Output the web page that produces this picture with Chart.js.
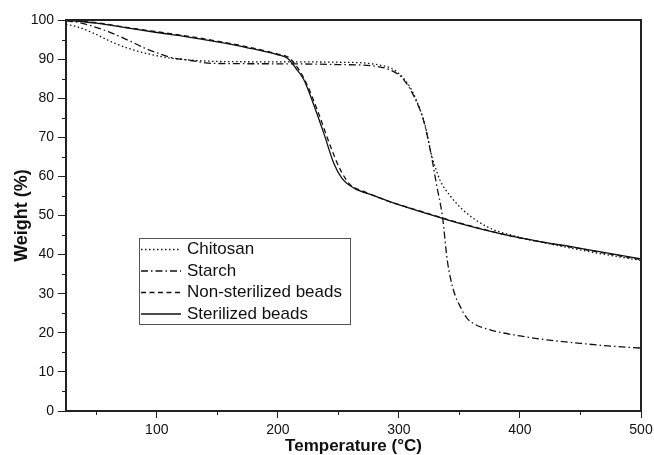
<!DOCTYPE html>
<html lang="en">
<head>
  <meta charset="utf-8" />
  <title>TGA curves</title>
  <script src="https://cdn.jsdelivr.net/npm/chart.js@4"></script>
  <style>
    html, body { margin: 0; padding: 0; background: #fff; }
    .chart-area { width: 654px; height: 455px; position: relative; }
  </style>
</head>
<body>
  <div class="chart-area">
    <canvas id="tga-chart"></canvas>
  </div>

<script>
  // thermogravimetric curves, temperature (°C) vs weight (%)
  const chitosanT = [25, 35, 48, 62, 76, 92, 110, 130, 150, 200, 250, 280, 295, 303, 310, 314, 321, 327.5, 331, 334, 343, 353, 373, 400, 430, 460, 500];
  const chitosanW = [98.9, 98.2, 96.6, 94.5, 92.8, 91.4, 90.3, 89.7, 89.4, 89.3, 89.2, 88.7, 87.4, 85.4, 82.4, 79.8, 73.8, 64.8, 61.5, 59, 54.8, 51.4, 47.1, 44.4, 42.4, 40.6, 38.5];

  const starchT = [25, 35, 48, 60, 70, 80, 90, 100, 112, 125, 147, 200, 250, 280, 293, 303, 314, 321, 327.5, 331, 336, 340, 345, 351, 356, 362, 376, 400, 422, 450, 475, 500];
  const starchW = [99.8, 99.4, 98.3, 97, 95.7, 94.3, 92.8, 91.6, 90.4, 89.8, 88.9, 88.8, 88.6, 88.2, 87.2, 85.1, 79.5, 73.6, 64.2, 58, 49.7, 38.5, 31, 26.5, 23.8, 22.3, 20.7, 19.2, 18.2, 17.3, 16.6, 16.1];

  const nonSterT = [25, 50, 75, 100, 125, 150, 175, 200, 209, 217, 223, 232.6, 243.6, 251.8, 260, 270, 290, 320, 350, 395, 450, 500];
  const nonSterW = [100, 99.3, 98.1, 97, 95.9, 94.6, 93.1, 91.3, 90.4, 87.5, 84.2, 77, 67.6, 61.6, 57.8, 56.3, 53.8, 50.9, 48.1, 44.6, 41.5, 38.7];

  const sterT = [25, 50, 75, 100, 125, 150, 175, 200, 208, 215, 221.5, 230, 238, 246.3, 253, 263, 280, 293, 320, 350, 395, 450, 500];
  const sterW = [100, 99.2, 98, 96.8, 95.7, 94.4, 92.9, 91.1, 90.2, 87.6, 84.7, 78, 71, 63.3, 59.5, 57, 55, 53.5, 50.8, 48.0, 44.6, 41.6, 38.9];

  const seriesNames = ['Chitosan', 'Starch', 'Non-sterilized beads', 'Sterilized beads'];

  // tick labels and minor tick positions
  const xMajorTicks = [100, 200, 300, 400, 500];
  const xMinorTicks = [50, 150, 250, 350, 450];
  const yMajorTicks = [0, 10, 20, 30, 40, 50, 60, 70, 80, 90, 100];
  const yMinorTicks = [5, 15, 25, 35, 45, 55, 65, 75, 85, 95];

  const FONT = "'Liberation Sans', Arial, sans-serif";

  function toPoints(xs, ys) {
    return xs.map((x, i) => ({ x: x, y: ys[i] }));
  }

  function lineSet(label, xs, ys, dash) {
    return {
      label: label,
      data: toPoints(xs, ys),
      borderColor: '#111',
      backgroundColor: '#111',
      borderWidth: 1.3,
      borderDash: dash,
      pointRadius: 0,
      cubicInterpolationMode: 'monotone',
      fill: false,
    };
  }

  const chartData = {
    datasets: [
      lineSet(seriesNames[0], chitosanT, chitosanW, [1.5, 2.5]),
      lineSet(seriesNames[1], starchT, starchW, [7, 3, 1.5, 3]),
      lineSet(seriesNames[2], nonSterT, nonSterW, [5, 3.5]),
      lineSet(seriesNames[3], sterT, sterW, []),
    ]
  };

  // frame around the plot, minor ticks and the boxed legend
  const framePlugin = {
    id: 'frame',
    afterDraw(chart) {
      const ctx = chart.ctx;
      const a = chart.chartArea;
      const xs = chart.scales.x;
      const ys = chart.scales.y;
      ctx.save();
      ctx.strokeStyle = '#222';
      ctx.lineWidth = 1;
      xMinorTicks.forEach(v => {
        const px = Math.round(xs.getPixelForValue(v)) + 0.5;
        ctx.beginPath();
        ctx.moveTo(px, a.bottom);
        ctx.lineTo(px, a.bottom + 4);
        ctx.stroke();
      });
      yMinorTicks.forEach(v => {
        const py = Math.round(ys.getPixelForValue(v)) + 0.5;
        ctx.beginPath();
        ctx.moveTo(a.left - 4, py);
        ctx.lineTo(a.left, py);
        ctx.stroke();
      });
      ctx.lineWidth = 2;
      ctx.strokeRect(a.left, a.top, a.right - a.left, a.bottom - a.top);

      // legend box
      const bx = 139.5, by = 238.5, bw = 211, bh = 86;
      ctx.fillStyle = '#fff';
      ctx.fillRect(bx, by, bw, bh);
      ctx.lineWidth = 1;
      ctx.strokeStyle = '#555';
      ctx.strokeRect(bx, by, bw, bh);
      ctx.font = '17px ' + FONT;
      ctx.textBaseline = 'middle';
      chart.data.datasets.forEach((ds, i) => {
        const y = 249.5 + i * 21.5;
        ctx.strokeStyle = ds.borderColor;
        ctx.lineWidth = ds.borderWidth;
        ctx.setLineDash(ds.borderDash);
        ctx.beginPath();
        ctx.moveTo(141, y);
        ctx.lineTo(181, y);
        ctx.stroke();
        ctx.setLineDash([]);
        ctx.fillStyle = '#111';
        ctx.fillText(ds.label, 187, y);
      });
      ctx.restore();
    }
  };

  function noPad(scale) {
    scale.paddingLeft = 0;
    scale.paddingRight = 0;
    scale.paddingTop = 0;
    scale.paddingBottom = 0;
  }

  const config = {
    type: 'line',
    data: chartData,
    options: {
      responsive: true,
      maintainAspectRatio: false,
      animation: false,
      layout: { padding: { top: 20, right: 13, left: 0, bottom: 0 } },
      plugins: {
        legend: { display: false },
        tooltip: { enabled: false },
      },
      scales: {
        x: {
          type: 'linear',
          min: 25,
          max: 500,
          afterBuildTicks: s => { s.ticks = xMajorTicks.map(v => ({ value: v })); },
          afterFit: s => { s.height = 44; noPad(s); },
          border: { display: true, color: '#222', width: 2 },
          grid: { drawOnChartArea: false, drawTicks: true, tickLength: 7, tickColor: '#222', tickWidth: 1 },
          ticks: { color: '#111', font: { family: FONT, size: 14 }, padding: 4, maxRotation: 0, autoSkip: false },
          title: {
            display: true,
            text: 'Temperature (°C)',
            color: '#111',
            font: { family: FONT, size: 17, weight: 'bold', lineHeight: 1 },
            padding: { top: 0, bottom: 0 },
          },
        },
        y: {
          type: 'linear',
          min: 0,
          max: 100,
          afterBuildTicks: s => { s.ticks = yMajorTicks.map(v => ({ value: v })); },
          afterFit: s => { s.width = 66; noPad(s); },
          border: { display: true, color: '#222', width: 2 },
          grid: { drawOnChartArea: false, drawTicks: true, tickLength: 8, tickColor: '#222', tickWidth: 1 },
          ticks: { color: '#111', font: { family: FONT, size: 14 }, padding: 4 },
          title: {
            display: true,
            text: 'Weight (%)',
            color: '#111',
            font: { family: FONT, size: 18, weight: 'bold', lineHeight: 1 },
            padding: { top: 13, bottom: 0 },
          },
        }
      }
    },
    plugins: [framePlugin],
  };

  window.onload = function () {
    const ctx = document.getElementById('tga-chart').getContext('2d');
    window.chart1 = new Chart(ctx, config);
  };
</script>
</body>
</html>
